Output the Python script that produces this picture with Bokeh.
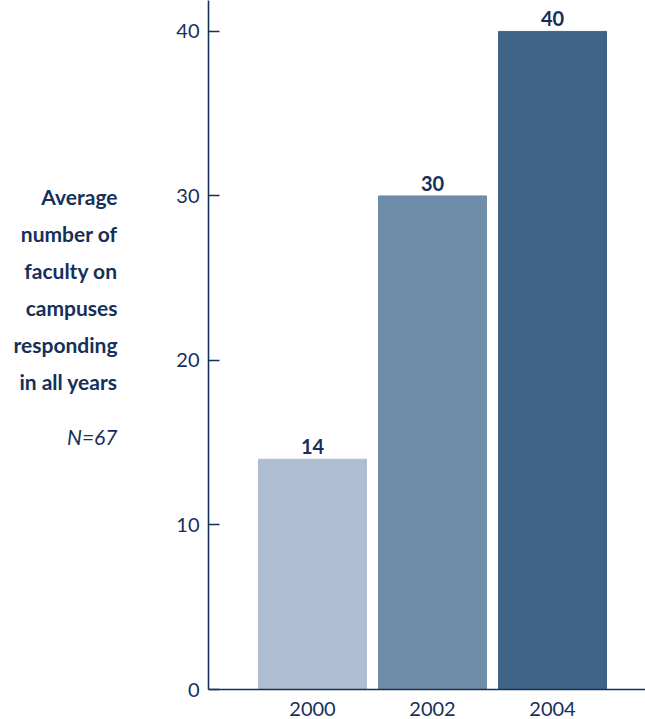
from bokeh.plotting import figure
from bokeh.layouts import row
from bokeh.models import Range1d, FixedTicker, ColumnDataSource
from bokeh.core.properties import value
from bokeh.embed import file_html
from bokeh.resources import INLINE

years = [2000, 2002, 2004]
year_labels = ["2000", "2002", "2004"]
faculty = [14, 30, 40]
bar_colors = ["#afbdd3", "#6f8ca9", "#3f6488"]
y_ticks = [0, 10, 20, 30, 40]
side_title = ["Average", "number of", "faculty on", "campuses", "responding", "in all years"]
side_note = "N=67"

NAVY = "#15305a"
FONT = "Lato"

W, H = 645, 719
SIDE_W = 150
AXIS_W = 58
BOTTOM = 30

# ---- side panel with the right-aligned title (page-pixel data space) ----
side = figure(width=SIDE_W, height=H, output_backend="svg", toolbar_location=None,
              x_range=Range1d(0, SIDE_W), y_range=Range1d(H, 0),
              min_border=0, min_border_left=0, min_border_right=0,
              min_border_top=0, min_border_bottom=0)
side.axis.visible = False
side.grid.visible = False
side.outline_line_color = None

text_x = 117
first_baseline = 205
gap = 38.5
side.text(x=[text_x] * len(side_title),
          y=[first_baseline + i * gap for i in range(len(side_title))],
          text=side_title, text_align="right", text_baseline="alphabetic",
          text_font=value(FONT), text_font_style="bold", text_font_size="21px",
          text_color=NAVY)
side.text(x=[text_x], y=[first_baseline + (len(side_title) - 1) * gap + 57], text=[side_note],
          text_align="right", text_baseline="alphabetic", text_font=value(FONT),
          text_font_style="italic", text_font_size="21px", text_color=NAVY)

# ---- main bar chart ----
src = ColumnDataSource(dict(x=years, top=faculty, color=bar_colors,
                            label=[str(v) for v in faculty]))

p = figure(width=W - SIDE_W, height=H, output_backend="svg", toolbar_location=None,
           x_range=Range1d(1998.2667, 2005.55), y_range=Range1d(0, 41.88),
           min_border_left=AXIS_W, min_border_top=0, min_border_right=0,
           min_border_bottom=BOTTOM)
p.outline_line_color = None
p.grid.visible = False

p.vbar(x="x", top="top", width=1.8, bottom=0, color="color", source=src)
p.text(x="x", y="top", text="label", source=src, text_align="center", text_baseline="bottom",
       y_offset=-5, text_font=value(FONT), text_font_style="bold", text_font_size="20px",
       text_color=NAVY)

ya = p.yaxis[0]
ya.ticker = FixedTicker(ticks=y_ticks)
ya.major_tick_in = 11
ya.major_tick_out = 0
ya.minor_tick_in = 0
ya.minor_tick_out = 0
ya.major_tick_line_color = NAVY
ya.major_tick_line_width = 1.3
ya.axis_line_color = NAVY
ya.axis_line_width = 1.6
ya.major_label_text_font = FONT
ya.major_label_text_font_size = "20px"
ya.major_label_text_color = NAVY
ya.major_label_standoff = 9

xa = p.xaxis[0]
xa.ticker = FixedTicker(ticks=years)
xa.major_label_overrides = {y: l for y, l in zip(years, year_labels)}
xa.major_tick_in = 0
xa.major_tick_out = 0
xa.minor_tick_in = 0
xa.minor_tick_out = 0
xa.axis_line_color = NAVY
xa.axis_line_width = 1.6
xa.major_label_text_font = FONT
xa.major_label_text_font_size = "20px"
xa.major_label_text_color = NAVY
xa.major_label_standoff = 12

layout = row(side, p, spacing=0)
open("out.html", "w").write(file_html(layout, INLINE))
